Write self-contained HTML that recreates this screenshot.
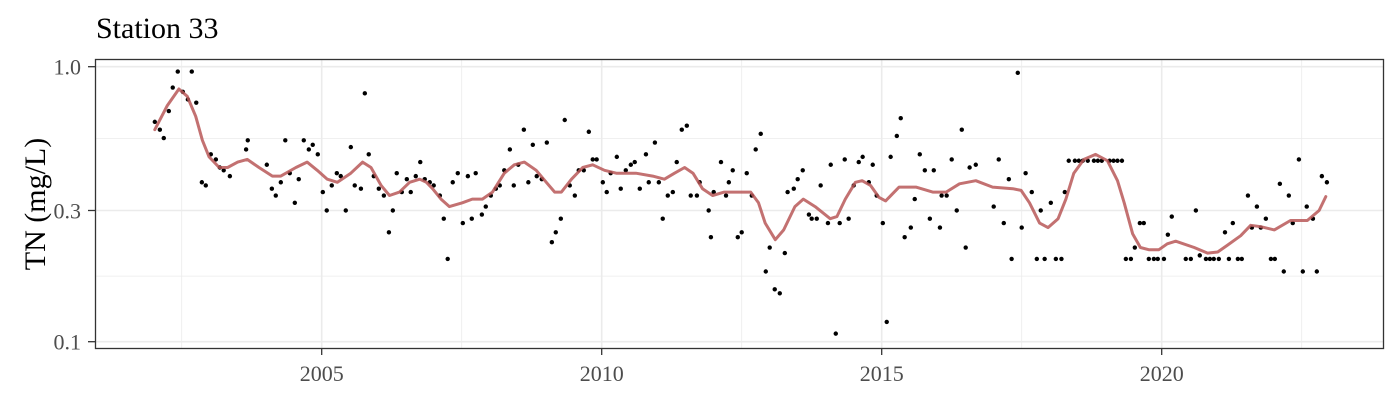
<!DOCTYPE html>
<html><head><meta charset="utf-8">
<style>
html,body{margin:0;padding:0;background:#fff;}
svg{display:block;font-family:"Liberation Serif",serif;}
</style></head>
<body>
<svg id="chart" width="1400" height="400" viewBox="0 0 1400 400">
<rect x="0" y="0" width="1400" height="400" fill="#fff"/>
<text x="96" y="38" font-size="30" fill="#000">Station 33</text>
<text transform="translate(45,204) rotate(-90)" text-anchor="middle" font-size="30" fill="#000">TN (mg/L)</text>
<g id="grid"></g>
<g id="pts"></g>
<g id="smooth"></g>
<rect x="95.5" y="59.5" width="1288" height="289" fill="none" stroke="#333" stroke-width="1.3"/>
<g id="axes"></g>
</svg>
<script>
const obsYears=[2002.02,2002.11,2002.18,2002.27,2002.34,2002.43,2002.52,2002.61,2002.68,2002.76,2002.86,2002.93,2003.02,2003.11,2003.18,2003.25,2003.36,2003.65,2003.68,2004.02,2004.11,2004.18,2004.27,2004.35,2004.43,2004.52,2004.59,2004.68,2004.77,2004.84,2004.93,2005.02,2005.09,2005.18,2005.27,2005.34,2005.43,2005.52,2005.59,2005.70,2005.77,2005.84,2005.93,2006.02,2006.11,2006.20,2006.27,2006.34,2006.43,2006.52,2006.59,2006.68,2006.76,2006.84,
2006.93,2007.00,2007.11,2007.18,2007.25,2007.34,2007.43,2007.52,2007.61,2007.68,2007.75,2007.86,2007.93,2008.02,2008.11,2008.18,2008.26,2008.36,2008.43,2008.51,2008.61,2008.69,2008.77,2008.84,2008.93,2009.02,2009.11,2009.18,2009.27,2009.34,2009.43,2009.52,2009.59,2009.68,2009.77,2009.84,2009.91,2010.02,2010.09,2010.16,2010.27,2010.34,2010.43,2010.52,2010.59,2010.68,2010.79,2010.84,2010.95,2011.02,2011.09,2011.18,2011.27,2011.34,2011.43,2011.52,2011.59,2011.70,2011.75,2011.91,2011.95,2012.00,2012.13,2012.22,2012.27,2012.34,2012.43,2012.50,2012.59,
2012.68,2012.75,2012.84,2012.93,2013.00,2013.09,2013.18,2013.27,2013.32,2013.43,2013.50,2013.59,2013.70,2013.75,2013.84,2013.91,2014.04,2014.09,2014.18,2014.25,2014.34,2014.41,2014.50,2014.59,2014.66,2014.77,2014.84,2014.91,2015.02,2015.09,2015.16,2015.27,2015.34,2015.41,2015.52,2015.59,2015.68,2015.77,2015.86,2015.93,2016.04,2016.07,2016.16,2016.25,2016.34,2016.43,2016.50,2016.57,2016.68,2017.00,2017.09,2017.18,2017.27,2017.32,2017.43,2017.50,2017.57,2017.68,2017.77,2017.84,2017.91,2018.02,2018.11,2018.21,2018.27,
2018.34,2018.45,2018.52,2018.59,2018.68,2018.79,2018.86,2018.93,2019.07,2019.14,2019.21,2019.29,2019.36,2019.45,2019.52,2019.61,2019.68,2019.77,2019.86,2019.93,2020.04,2020.11,2020.18,2020.43,2020.52,2020.61,2020.68,2020.79,2020.86,2020.93,2021.02,2021.13,2021.20,2021.27,2021.36,2021.43,2021.54,2021.61,2021.70,2021.77,2021.86,2021.95,2022.02,2022.11,2022.18,2022.27,2022.34,2022.45,2022.52,2022.59,2022.70,2022.77,2022.86,2022.95];
const obsValues=[0.63,0.59,0.55,0.69,0.84,0.96,0.81,0.76,0.96,0.74,0.38,0.37,0.48,0.46,0.43,0.42,0.40,0.50,0.54,0.44,0.36,0.34,0.38,0.54,0.41,0.32,0.39,0.54,0.50,0.52,0.48,0.35,0.30,0.37,0.41,0.40,0.30,0.51,0.37,0.36,0.80,0.48,0.40,0.36,0.34,0.25,0.30,0.41,0.35,0.39,0.35,0.40,0.45,0.39,
0.38,0.37,0.34,0.28,0.20,0.38,0.41,0.27,0.40,0.28,0.41,0.29,0.31,0.34,0.36,0.37,0.42,0.50,0.37,0.44,0.59,0.38,0.52,0.40,0.39,0.53,0.23,0.25,0.28,0.64,0.37,0.34,0.42,0.42,0.58,0.46,0.46,0.38,0.35,0.41,0.47,0.36,0.42,0.44,0.45,0.36,0.48,0.38,0.53,0.38,0.28,0.34,0.35,0.45,0.59,0.61,0.34,0.34,0.38,0.30,0.24,0.35,0.45,0.34,0.38,0.42,0.24,0.25,0.41,
0.34,0.50,0.57,0.18,0.22,0.155,0.15,0.21,0.35,0.36,0.39,0.42,0.29,0.28,0.28,0.37,0.27,0.44,0.107,0.27,0.46,0.28,0.37,0.45,0.47,0.38,0.44,0.34,0.27,0.118,0.47,0.56,0.65,0.24,0.26,0.33,0.48,0.42,0.28,0.42,0.26,0.34,0.34,0.46,0.30,0.59,0.22,0.43,0.44,0.31,0.46,0.27,0.39,0.20,0.95,0.26,0.41,0.35,0.20,0.30,0.20,0.32,0.20,0.20,0.35,
0.455,0.455,0.455,0.455,0.455,0.455,0.455,0.455,0.455,0.455,0.455,0.455,0.20,0.20,0.22,0.27,0.27,0.20,0.20,0.20,0.20,0.245,0.285,0.20,0.20,0.30,0.206,0.20,0.20,0.20,0.20,0.25,0.20,0.27,0.20,0.20,0.34,0.26,0.31,0.26,0.28,0.20,0.20,0.375,0.18,0.34,0.27,0.46,0.18,0.31,0.28,0.18,0.40,0.38];
const smoothYears=[2002.02,2002.24,2002.45,2002.60,2002.75,2002.87,2002.99,2003.17,2003.32,2003.50,2003.67,2003.88,2004.12,2004.27,2004.54,2004.74,2004.92,2005.10,2005.28,2005.52,2005.73,2005.88,2006.06,2006.21,2006.39,2006.57,2006.75,2006.87,2006.98,2007.13,2007.28,2007.51,2007.69,2007.87,2008.05,2008.26,2008.44,2008.62,2008.83,2009.01,2009.16,2009.28,2009.46,2009.66,2009.84,2010.05,2010.26,2010.61,2010.91,2011.12,2011.30,2011.48,2011.63,2011.80,2011.98,2012.19,2012.39,2012.66,2012.80,2012.92,2013.10,2013.25,2013.45,2013.60,2013.81,2014.08,2014.20,2014.35,2014.53,2014.65,2014.80,2014.95,2015.07,2015.31,2015.61,2015.91,2016.15,2016.39,2016.68,2016.98,2017.34,2017.49,2017.64,2017.82,2017.97,2018.15,2018.29,2018.43,2018.61,2018.82,2019.03,2019.21,2019.33,2019.48,2019.62,2019.77,2019.95,2020.10,2020.25,2020.58,2020.82,2021.00,2021.17,2021.41,2021.59,2021.77,2022.01,2022.30,2022.60,2022.81,2022.93];
const smoothValues=[0.59,0.72,0.83,0.78,0.66,0.54,0.47,0.43,0.43,0.45,0.46,0.43,0.40,0.40,0.43,0.45,0.42,0.39,0.38,0.41,0.45,0.43,0.37,0.34,0.35,0.38,0.39,0.38,0.36,0.33,0.31,0.32,0.33,0.33,0.35,0.41,0.44,0.45,0.42,0.38,0.35,0.35,0.39,0.43,0.44,0.42,0.41,0.41,0.40,0.39,0.41,0.43,0.41,0.36,0.34,0.35,0.35,0.35,0.32,0.27,0.235,0.255,0.31,0.33,0.31,0.28,0.285,0.33,0.38,0.385,0.37,0.335,0.325,0.365,0.365,0.35,0.35,0.375,0.385,0.365,0.36,0.355,0.32,0.27,0.26,0.28,0.33,0.41,0.46,0.48,0.455,0.385,0.32,0.247,0.22,0.216,0.216,0.227,0.232,0.22,0.21,0.212,0.224,0.243,0.265,0.262,0.255,0.276,0.276,0.30,0.337];
const yTicks=[1.0,0.3,0.1];
const yTickLabels=["1.0","0.3","0.1"];
const yMinor=[0.5477,0.1732];
const xTicks=[2005,2010,2015,2020];
const xMinor=[2002.5,2007.5,2012.5,2017.5,2022.5];

const NS="http://www.w3.org/2000/svg";
function xs(yr){return 321.7+(yr-2005)*56;}
function ys(v){return 66.7-Math.log10(v)*275;}
function mk(tag,attrs,parent){const e=document.createElementNS(NS,tag);for(const k in attrs)e.setAttribute(k,attrs[k]);parent.appendChild(e);return e;}
const grid=document.getElementById('grid'),axes=document.getElementById('axes');
const L=96,R=1383,T=60,B=348;
yMinor.forEach(v=>{const e=mk('line',{x1:L,x2:R,y1:ys(v),y2:ys(v),stroke:'#ebebeb','stroke-width':0.8},grid);

});
xMinor.forEach(v=>{const e=mk('line',{x1:xs(v),x2:xs(v),y1:T,y2:B,stroke:'#ebebeb','stroke-width':0.8},grid);

});
yTicks.forEach((v,i)=>{const y=ys(v);
const g=mk('line',{x1:L,x2:R,y1:y,y2:y,stroke:'#ebebeb','stroke-width':1.6},grid);


const t=mk('line',{x1:88,x2:95,y1:y,y2:y,stroke:'#333','stroke-width':1.3},axes);


const l=mk('text',{x:81,y:y+8,'text-anchor':'end','font-size':22,fill:'#4d4d4d'},axes);l.textContent=yTickLabels[i];

});
xTicks.forEach(v=>{const x=xs(v);
const g=mk('line',{x1:x,x2:x,y1:T,y2:B,stroke:'#ebebeb','stroke-width':1.6},grid);


const t=mk('line',{x1:x,x2:x,y1:349,y2:355,stroke:'#333','stroke-width':1.3},axes);


const l=mk('text',{x:x,y:381,'text-anchor':'middle','font-size':22,fill:'#4d4d4d'},axes);l.textContent=String(v);

});
const pts=document.getElementById('pts');
obsYears.forEach((yr,i)=>{const c=mk('circle',{cx:xs(yr),cy:ys(obsValues[i]),r:2.2,fill:'#000'},pts);

});
let d='';smoothYears.forEach((yr,i)=>{d+=(i?'L':'M')+xs(yr).toFixed(1)+' '+ys(smoothValues[i]).toFixed(1);});
const p=mk('path',{d:d,fill:'none',stroke:'#b85858','stroke-opacity':0.85,'stroke-width':3,'stroke-linejoin':'round','stroke-linecap':'round'},document.getElementById('smooth'));


</script>
</body></html>
